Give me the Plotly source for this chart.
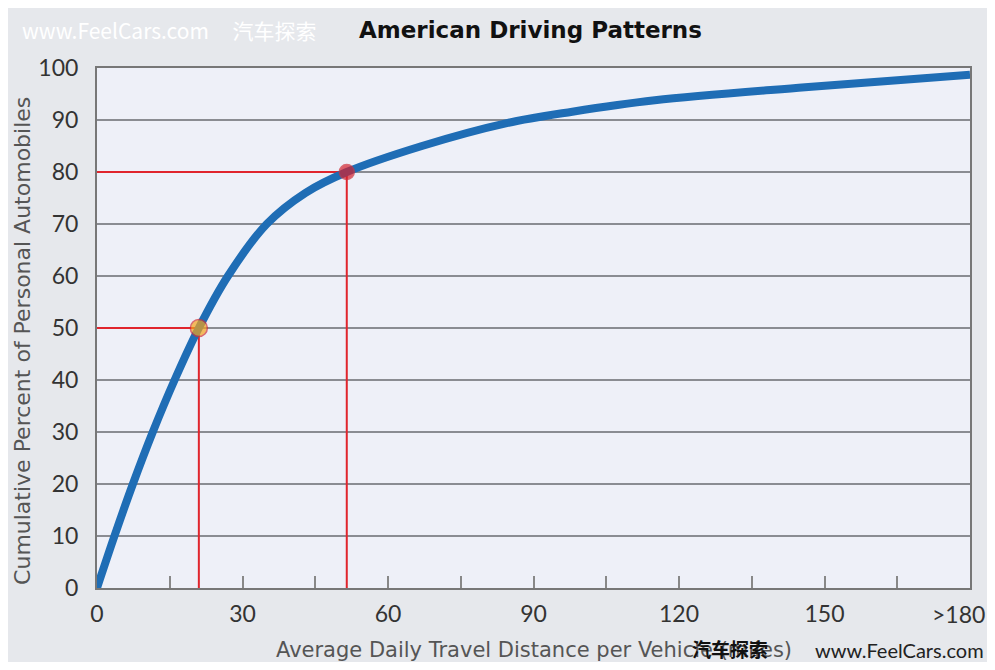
import plotly.graph_objects as go

# Data
distance_miles = [0, 3.6, 7.4, 11.5, 16, 21, 27, 35, 43, 51.5, 67, 84.5, 98, 115, 146, 180]
cumulative_pct = [0, 10, 20, 30, 40, 50, 60, 70, 76, 80, 85, 89.4, 91.6, 93.8, 96.3, 98.7]

highlight_x = [21, 51.5]
highlight_y = [50, 80]
highlight_colors = ["#f5a41c", "#d61f2c"]

x_tick_vals = [0, 15, 30, 45, 60, 75, 90, 105, 120, 135, 150, 165, 180]
x_tick_text = ["0", "", "30", "", "60", "", "90", "", "120", "", "150", "", ">180"]
y_tick_vals = [0, 10, 20, 30, 40, 50, 60, 70, 80, 90, 100]

FONT = "Lato"
fig = go.Figure()

# red guide lines
for hx, hy in zip(highlight_x, highlight_y):
    fig.add_trace(go.Scatter(x=[-0.5, hx, hx], y=[hy, hy, 0], mode="lines",
                             line=dict(color="#e0252d", width=2), hoverinfo="skip",
                             showlegend=False, cliponaxis=False))

fig.add_trace(go.Scatter(x=distance_miles, y=cumulative_pct, mode="lines",
                         line=dict(color="#1f6db5", width=8, shape="spline", smoothing=1.0),
                         showlegend=False, cliponaxis=False))

fig.add_trace(go.Scatter(x=highlight_x, y=highlight_y, mode="markers",
                         marker=dict(color=highlight_colors, size=[17, 15],
                                     line=dict(color="#d0303a", width=1.5)),
                         showlegend=False, cliponaxis=False))

# last tick label sits at the page edge: draw it as a right-anchored annotation
shown_text = x_tick_text[:-1] + [""]

fig.update_layout(
    width=979, height=654,
    margin=dict(l=89, r=17, t=60, b=74),
    paper_bgcolor="#e6e8ec",
    plot_bgcolor="#eef0f8",
    font=dict(family=FONT, color="#333333", size=23),
    xaxis=dict(range=[0, 180], tickvals=x_tick_vals, ticktext=shown_text,
               ticks="inside", ticklen=12, tickwidth=1.5, tickcolor="#888888",
               showgrid=False, zeroline=False, showline=True, linecolor="#777777",
               linewidth=2, mirror=True, ticklabelstandoff=4,
               tickfont=dict(size=23, color="#333333", family=FONT)),
    yaxis=dict(range=[0, 100], tickvals=y_tick_vals, ticks="",
               showgrid=True, gridcolor="#8a8c92", gridwidth=1.5,
               zeroline=False, showline=True, linecolor="#777777", linewidth=2,
               mirror=True, ticklabelstandoff=12,
               tickfont=dict(size=23, color="#333333", family=FONT)),
    annotations=[
        dict(text=x_tick_text[-1], x=x_tick_vals[-1], xref="x", xshift=17, y=-0.05, yref="paper",
             xanchor="right", yanchor="middle", showarrow=False,
             font=dict(size=23, color="#333333", family=FONT)),
        dict(text="<b>American Driving Patterns</b>", x=0.497, xref="paper", y=1.073, yref="paper",
             yanchor="middle", showarrow=False,
             font=dict(size=23, color="#111111", family="DejaVu Sans"), xanchor="center"),
        dict(text="www.FeelCars.com     汽车探索", x=-0.088, xref="paper", y=1.073, yref="paper",
             xanchor="left", yanchor="middle", showarrow=False,
             font=dict(size=21, color="#ffffff", family="Noto Sans CJK SC")),
        dict(text="Cumulative Percent of Personal Automobiles", x=-0.086, xref="paper",
             y=0.475, yref="paper", xanchor="center", yanchor="middle", textangle=-90,
             showarrow=False, font=dict(size=22, color="#555555", family="DejaVu Sans")),
        dict(text="Average Daily Travel Distance per Vehicle (miles)", x=0.5, xref="paper",
             y=-0.119, yref="paper", yanchor="middle", showarrow=False,
             font=dict(size=21, color="#555555", family="DejaVu Sans")),
        dict(text="<b>汽车探索</b>", x=0.725, xref="paper", y=-0.117, yref="paper",
             xanchor="center", yanchor="middle", showarrow=False,
             font=dict(size=19, color="#111111", family="Noto Sans CJK SC")),
        dict(text="www.FeelCars.com", x=1.018, xref="paper", y=-0.119, yref="paper",
             xanchor="right", yanchor="middle", showarrow=False,
             font=dict(size=20, color="#222222", family=FONT)),
    ],
)

fig.write_html("out.html")
